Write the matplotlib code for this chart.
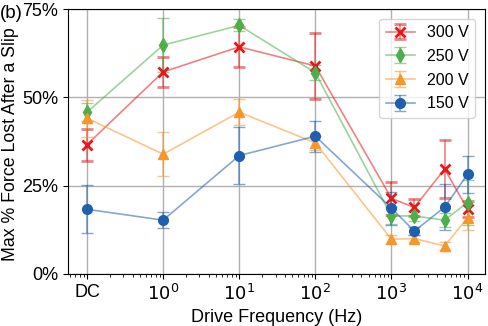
import numpy as np
import matplotlib.pyplot as plt
from matplotlib.colors import to_rgba
from matplotlib.ticker import FuncFormatter

plt.rcParams['font.family'] = ['Liberation Sans', 'DejaVu Sans']
plt.rcParams['font.size'] = 13

# DC is drawn at 0.1 Hz on the log axis
freqs = [0.1, 1, 10, 100, 1000, 2000, 5000, 10000]
tick_pos = [0.1, 1, 10, 100, 1000, 10000]
tick_labels = ['DC', '$10^0$', '$10^1$', '$10^2$', '$10^3$', '$10^4$']

labels = ['300 V', '250 V', '200 V', '150 V']
v300 = [36.6, 57.2, 64.3, 58.9, 21.4, 18.8, 29.7, 18.3]
e300 = [4.5, 4.3, 5.7, 9.3, 4.7, 2.4, 8.3, 2.2]
v250 = [45.8, 64.8, 70.4, 57.0, 16.4, 16.4, 15.2, 20.2]
e250 = [2.6, 7.7, 1.7, 2.2, 2.4, 1.5, 2.0, 6.3]
v200 = [44.1, 33.9, 45.8, 37.1, 9.8, 10.0, 7.9, 15.9]
e200 = [5.2, 6.2, 3.7, 2.0, 1.3, 1.0, 1.1, 3.5]
v150 = [18.3, 15.2, 33.5, 39.0, 18.6, 12.1, 18.9, 28.2]
e150 = [6.8, 2.3, 8.0, 4.4, 4.7, 1.1, 6.5, 5.3]

values = [v300, v250, v200, v150]
errors = [e300, e250, e200, e150]
colors = ['#e31a1c', '#4daf4a', '#f7962a', '#1f5fad']
markers = ['x', 'd', '^', 'o']
msizes = [6.5, 7.5, 7.5, 7]

fig = plt.figure(figsize=(4.88, 3.26), dpi=100)
ax = fig.add_axes([0.139, 0.16, 0.855, 0.812])

for vals, errs, c, m, ms, lab in zip(values, errors, colors, markers, msizes, labels):
    light = to_rgba(c, 0.55)
    solid = to_rgba(c, 1.0)
    ax.errorbar(freqs, vals, yerr=errs, color=light, ecolor=light,
                marker=m, ms=ms, mfc=solid, mec=solid, mew=2 if m == 'x' else 1,
                lw=1.2, elinewidth=1.2, capsize=4.3, capthick=1.2, label=lab)

ax.set_xscale('log')
ax.set_xlim(0.056, 17000)
ax.set_ylim(0, 75)
ax.set_xticks(tick_pos)
ax.set_xticklabels(tick_labels)
ax.set_yticks([0, 25, 50, 75])
ax.yaxis.set_major_formatter(FuncFormatter(lambda v, p: f'{v:.0f}%'))
ax.grid(True, which='major', color='#b0b0b0', lw=1)
ax.set_axisbelow(True)
ax.set_xlabel('Drive Frequency (Hz)')
ax.set_ylabel('Max % Force Lost After a Slip', fontsize=12.8)
ax.yaxis.set_label_coords(-0.117, 0.49)
ax.legend(loc='upper right', fontsize=11.5, handlelength=1.8,
          borderaxespad=0.6, labelspacing=0.55)

fig.text(0.0, 0.945, '(b)', fontsize=13.5)

fig.savefig('out.png', dpi=100)
